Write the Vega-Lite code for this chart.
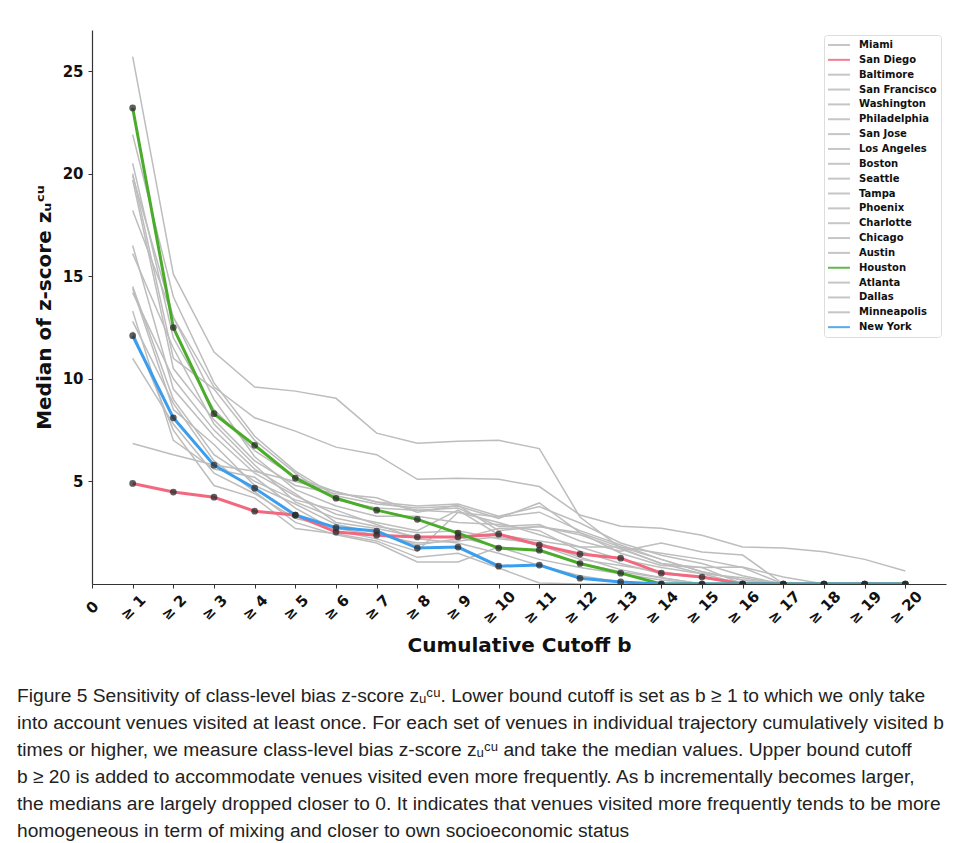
{
  "$schema": "https://vega.github.io/schema/vega-lite/v6.json",
  "width": 854,
  "height": 554,
  "autosize": {"type": "none"},
  "padding": {"left": 92, "top": 30, "right": 13, "bottom": 259},
  "background": "white",
  "title": {
    "text": [
      "Figure 5  Sensitivity of class-level bias z-score zᵤᶜᵘ. Lower bound cutoff is set as b ≥ 1 to which we only take",
      "into account venues visited at least once. For each set of venues in individual trajectory cumulatively visited b",
      "times or higher, we measure class-level bias z-score zᵤᶜᵘ and take the median values. Upper bound cutoff",
      "b ≥ 20 is added to accommodate venues visited even more frequently. As b incrementally becomes larger,",
      "the medians are largely dropped closer to 0. It indicates that venues visited more frequently tends to be more",
      "homogeneous in term of mixing and closer to own socioeconomic status"
    ],
    "orient": "bottom",
    "anchor": "start",
    "frame": "group",
    "dx": -75,
    "offset": 32,
    "baseline": "top",
    "font": "Liberation Sans",
    "fontSize": 19.2,
    "fontWeight": "normal",
    "lineHeight": 27,
    "color": "#222222"
  },
  "data": {"values": [
    {"city":"Miami","b":1,"z":25.7},{"city":"Miami","b":2,"z":15.1},{"city":"Miami","b":3,"z":11.3},{"city":"Miami","b":4,"z":9.6},{"city":"Miami","b":5,"z":9.4},{"city":"Miami","b":6,"z":9.05},{"city":"Miami","b":7,"z":7.35},{"city":"Miami","b":8,"z":6.86},{"city":"Miami","b":9,"z":6.96},{"city":"Miami","b":10,"z":7.0},{"city":"Miami","b":11,"z":6.6},{"city":"Miami","b":12,"z":3.26},{"city":"Miami","b":13,"z":1.75},{"city":"Miami","b":14,"z":1.0},{"city":"Miami","b":15,"z":0.5},{"city":"Miami","b":16,"z":0},{"city":"Miami","b":17,"z":0},{"city":"Miami","b":18,"z":0},{"city":"Miami","b":19,"z":0},{"city":"Miami","b":20,"z":0},
    {"city":"Baltimore","b":1,"z":19.9},{"city":"Baltimore","b":2,"z":13.0},{"city":"Baltimore","b":3,"z":9.6},{"city":"Baltimore","b":4,"z":8.1},{"city":"Baltimore","b":5,"z":7.45},{"city":"Baltimore","b":6,"z":6.67},{"city":"Baltimore","b":7,"z":6.3},{"city":"Baltimore","b":8,"z":5.1},{"city":"Baltimore","b":9,"z":5.15},{"city":"Baltimore","b":10,"z":5.1},{"city":"Baltimore","b":11,"z":4.75},{"city":"Baltimore","b":12,"z":3.36},{"city":"Baltimore","b":13,"z":2.82},{"city":"Baltimore","b":14,"z":2.72},{"city":"Baltimore","b":15,"z":2.38},{"city":"Baltimore","b":16,"z":1.8},{"city":"Baltimore","b":17,"z":1.75},{"city":"Baltimore","b":18,"z":1.57},{"city":"Baltimore","b":19,"z":1.2},{"city":"Baltimore","b":20,"z":0.63},
    {"city":"San Francisco","b":1,"z":6.85},{"city":"San Francisco","b":2,"z":6.3},{"city":"San Francisco","b":3,"z":5.8},{"city":"San Francisco","b":4,"z":5.5},{"city":"San Francisco","b":5,"z":5.0},{"city":"San Francisco","b":6,"z":4.5},{"city":"San Francisco","b":7,"z":4.0},{"city":"San Francisco","b":8,"z":3.6},{"city":"San Francisco","b":9,"z":3.5},{"city":"San Francisco","b":10,"z":3.0},{"city":"San Francisco","b":11,"z":2.4},{"city":"San Francisco","b":12,"z":1.8},{"city":"San Francisco","b":13,"z":1.2},{"city":"San Francisco","b":14,"z":0.8},{"city":"San Francisco","b":15,"z":0.5},{"city":"San Francisco","b":16,"z":0.3},{"city":"San Francisco","b":17,"z":0},{"city":"San Francisco","b":18,"z":0},{"city":"San Francisco","b":19,"z":0},{"city":"San Francisco","b":20,"z":0},
    {"city":"Washington","b":1,"z":21.9},{"city":"Washington","b":2,"z":14.0},{"city":"Washington","b":3,"z":9.8},{"city":"Washington","b":4,"z":7.2},{"city":"Washington","b":5,"z":5.5},{"city":"Washington","b":6,"z":4.3},{"city":"Washington","b":7,"z":3.9},{"city":"Washington","b":8,"z":3.7},{"city":"Washington","b":9,"z":3.8},{"city":"Washington","b":10,"z":3.2},{"city":"Washington","b":11,"z":3.95},{"city":"Washington","b":12,"z":2.5},{"city":"Washington","b":13,"z":1.8},{"city":"Washington","b":14,"z":1.5},{"city":"Washington","b":15,"z":1.2},{"city":"Washington","b":16,"z":0.8},{"city":"Washington","b":17,"z":0},{"city":"Washington","b":18,"z":0},{"city":"Washington","b":19,"z":0},{"city":"Washington","b":20,"z":0},
    {"city":"Philadelphia","b":1,"z":20.5},{"city":"Philadelphia","b":2,"z":12.0},{"city":"Philadelphia","b":3,"z":8.5},{"city":"Philadelphia","b":4,"z":6.5},{"city":"Philadelphia","b":5,"z":5.2},{"city":"Philadelphia","b":6,"z":4.5},{"city":"Philadelphia","b":7,"z":4.0},{"city":"Philadelphia","b":8,"z":3.8},{"city":"Philadelphia","b":9,"z":3.9},{"city":"Philadelphia","b":10,"z":3.3},{"city":"Philadelphia","b":11,"z":3.77},{"city":"Philadelphia","b":12,"z":2.97},{"city":"Philadelphia","b":13,"z":2.0},{"city":"Philadelphia","b":14,"z":1.4},{"city":"Philadelphia","b":15,"z":1.0},{"city":"Philadelphia","b":16,"z":0.4},{"city":"Philadelphia","b":17,"z":0},{"city":"Philadelphia","b":18,"z":0},{"city":"Philadelphia","b":19,"z":0},{"city":"Philadelphia","b":20,"z":0},
    {"city":"San Jose","b":1,"z":20.0},{"city":"San Jose","b":2,"z":11.0},{"city":"San Jose","b":3,"z":9.5},{"city":"San Jose","b":4,"z":7.0},{"city":"San Jose","b":5,"z":5.4},{"city":"San Jose","b":6,"z":4.1},{"city":"San Jose","b":7,"z":3.7},{"city":"San Jose","b":8,"z":3.6},{"city":"San Jose","b":9,"z":3.7},{"city":"San Jose","b":10,"z":2.8},{"city":"San Jose","b":11,"z":2.9},{"city":"San Jose","b":12,"z":2.1},{"city":"San Jose","b":13,"z":1.6},{"city":"San Jose","b":14,"z":2.0},{"city":"San Jose","b":15,"z":1.56},{"city":"San Jose","b":16,"z":1.41},{"city":"San Jose","b":17,"z":0},{"city":"San Jose","b":18,"z":0},{"city":"San Jose","b":19,"z":0},{"city":"San Jose","b":20,"z":0},
    {"city":"Los Angeles","b":1,"z":19.7},{"city":"Los Angeles","b":2,"z":10.5},{"city":"Los Angeles","b":3,"z":8.0},{"city":"Los Angeles","b":4,"z":6.0},{"city":"Los Angeles","b":5,"z":4.8},{"city":"Los Angeles","b":6,"z":4.4},{"city":"Los Angeles","b":7,"z":4.2},{"city":"Los Angeles","b":8,"z":3.5},{"city":"Los Angeles","b":9,"z":3.84},{"city":"Los Angeles","b":10,"z":2.6},{"city":"Los Angeles","b":11,"z":2.8},{"city":"Los Angeles","b":12,"z":2.4},{"city":"Los Angeles","b":13,"z":1.7},{"city":"Los Angeles","b":14,"z":1.0},{"city":"Los Angeles","b":15,"z":0.8},{"city":"Los Angeles","b":16,"z":0.83},{"city":"Los Angeles","b":17,"z":0.34},{"city":"Los Angeles","b":18,"z":0},{"city":"Los Angeles","b":19,"z":0},{"city":"Los Angeles","b":20,"z":0},
    {"city":"Boston","b":1,"z":18.2},{"city":"Boston","b":2,"z":13.0},{"city":"Boston","b":3,"z":9.0},{"city":"Boston","b":4,"z":6.2},{"city":"Boston","b":5,"z":4.6},{"city":"Boston","b":6,"z":3.8},{"city":"Boston","b":7,"z":3.3},{"city":"Boston","b":8,"z":3.3},{"city":"Boston","b":9,"z":3.0},{"city":"Boston","b":10,"z":2.9},{"city":"Boston","b":11,"z":2.6},{"city":"Boston","b":12,"z":1.6},{"city":"Boston","b":13,"z":1.0},{"city":"Boston","b":14,"z":0.5},{"city":"Boston","b":15,"z":0.3},{"city":"Boston","b":16,"z":0},{"city":"Boston","b":17,"z":0},{"city":"Boston","b":18,"z":0},{"city":"Boston","b":19,"z":0},{"city":"Boston","b":20,"z":0},
    {"city":"Seattle","b":1,"z":16.5},{"city":"Seattle","b":2,"z":9.5},{"city":"Seattle","b":3,"z":7.2},{"city":"Seattle","b":4,"z":5.4},{"city":"Seattle","b":5,"z":4.3},{"city":"Seattle","b":6,"z":3.4},{"city":"Seattle","b":7,"z":3.0},{"city":"Seattle","b":8,"z":2.6},{"city":"Seattle","b":9,"z":3.6},{"city":"Seattle","b":10,"z":2.4},{"city":"Seattle","b":11,"z":2.1},{"city":"Seattle","b":12,"z":1.8},{"city":"Seattle","b":13,"z":1.8},{"city":"Seattle","b":14,"z":1.2},{"city":"Seattle","b":15,"z":0.6},{"city":"Seattle","b":16,"z":0.2},{"city":"Seattle","b":17,"z":0},{"city":"Seattle","b":18,"z":0},{"city":"Seattle","b":19,"z":0},{"city":"Seattle","b":20,"z":0},
    {"city":"Tampa","b":1,"z":16.1},{"city":"Tampa","b":2,"z":11.5},{"city":"Tampa","b":3,"z":7.8},{"city":"Tampa","b":4,"z":5.8},{"city":"Tampa","b":5,"z":4.0},{"city":"Tampa","b":6,"z":3.2},{"city":"Tampa","b":7,"z":2.8},{"city":"Tampa","b":8,"z":2.5},{"city":"Tampa","b":9,"z":2.6},{"city":"Tampa","b":10,"z":2.2},{"city":"Tampa","b":11,"z":2.0},{"city":"Tampa","b":12,"z":1.3},{"city":"Tampa","b":13,"z":0.7},{"city":"Tampa","b":14,"z":0.3},{"city":"Tampa","b":15,"z":0},{"city":"Tampa","b":16,"z":0},{"city":"Tampa","b":17,"z":0},{"city":"Tampa","b":18,"z":0},{"city":"Tampa","b":19,"z":0},{"city":"Tampa","b":20,"z":0},
    {"city":"Phoenix","b":1,"z":14.5},{"city":"Phoenix","b":2,"z":9.0},{"city":"Phoenix","b":3,"z":6.3},{"city":"Phoenix","b":4,"z":5.0},{"city":"Phoenix","b":5,"z":4.1},{"city":"Phoenix","b":6,"z":3.6},{"city":"Phoenix","b":7,"z":2.9},{"city":"Phoenix","b":8,"z":2.2},{"city":"Phoenix","b":9,"z":2.0},{"city":"Phoenix","b":10,"z":1.5},{"city":"Phoenix","b":11,"z":0.9},{"city":"Phoenix","b":12,"z":0.4},{"city":"Phoenix","b":13,"z":0.1},{"city":"Phoenix","b":14,"z":0},{"city":"Phoenix","b":15,"z":0},{"city":"Phoenix","b":16,"z":0},{"city":"Phoenix","b":17,"z":0},{"city":"Phoenix","b":18,"z":0},{"city":"Phoenix","b":19,"z":0},{"city":"Phoenix","b":20,"z":0},
    {"city":"Charlotte","b":1,"z":14.4},{"city":"Charlotte","b":2,"z":8.5},{"city":"Charlotte","b":3,"z":6.8},{"city":"Charlotte","b":4,"z":4.8},{"city":"Charlotte","b":5,"z":3.9},{"city":"Charlotte","b":6,"z":2.9},{"city":"Charlotte","b":7,"z":2.5},{"city":"Charlotte","b":8,"z":1.9},{"city":"Charlotte","b":9,"z":2.2},{"city":"Charlotte","b":10,"z":2.7},{"city":"Charlotte","b":11,"z":2.8},{"city":"Charlotte","b":12,"z":2.5},{"city":"Charlotte","b":13,"z":1.5},{"city":"Charlotte","b":14,"z":0.9},{"city":"Charlotte","b":15,"z":0.8},{"city":"Charlotte","b":16,"z":0},{"city":"Charlotte","b":17,"z":0},{"city":"Charlotte","b":18,"z":0},{"city":"Charlotte","b":19,"z":0},{"city":"Charlotte","b":20,"z":0},
    {"city":"Chicago","b":1,"z":14.2},{"city":"Chicago","b":2,"z":10.0},{"city":"Chicago","b":3,"z":7.5},{"city":"Chicago","b":4,"z":5.6},{"city":"Chicago","b":5,"z":4.4},{"city":"Chicago","b":6,"z":3.0},{"city":"Chicago","b":7,"z":2.7},{"city":"Chicago","b":8,"z":2.3},{"city":"Chicago","b":9,"z":2.3},{"city":"Chicago","b":10,"z":1.8},{"city":"Chicago","b":11,"z":1.2},{"city":"Chicago","b":12,"z":0.8},{"city":"Chicago","b":13,"z":0.5},{"city":"Chicago","b":14,"z":0.2},{"city":"Chicago","b":15,"z":0},{"city":"Chicago","b":16,"z":0},{"city":"Chicago","b":17,"z":0},{"city":"Chicago","b":18,"z":0},{"city":"Chicago","b":19,"z":0},{"city":"Chicago","b":20,"z":0},
    {"city":"Austin","b":1,"z":13.3},{"city":"Austin","b":2,"z":7.0},{"city":"Austin","b":3,"z":5.6},{"city":"Austin","b":4,"z":5.2},{"city":"Austin","b":5,"z":3.7},{"city":"Austin","b":6,"z":2.6},{"city":"Austin","b":7,"z":2.2},{"city":"Austin","b":8,"z":1.6},{"city":"Austin","b":9,"z":3.5},{"city":"Austin","b":10,"z":3.26},{"city":"Austin","b":11,"z":3.5},{"city":"Austin","b":12,"z":2.6},{"city":"Austin","b":13,"z":1.9},{"city":"Austin","b":14,"z":1.2},{"city":"Austin","b":15,"z":0.6},{"city":"Austin","b":16,"z":0.2},{"city":"Austin","b":17,"z":0},{"city":"Austin","b":18,"z":0},{"city":"Austin","b":19,"z":0},{"city":"Austin","b":20,"z":0},
    {"city":"Atlanta","b":1,"z":12.8},{"city":"Atlanta","b":2,"z":8.8},{"city":"Atlanta","b":3,"z":6.0},{"city":"Atlanta","b":4,"z":4.5},{"city":"Atlanta","b":5,"z":3.0},{"city":"Atlanta","b":6,"z":2.4},{"city":"Atlanta","b":7,"z":2.0},{"city":"Atlanta","b":8,"z":1.07},{"city":"Atlanta","b":9,"z":1.07},{"city":"Atlanta","b":10,"z":1.8},{"city":"Atlanta","b":11,"z":1.6},{"city":"Atlanta","b":12,"z":1.0},{"city":"Atlanta","b":13,"z":0.6},{"city":"Atlanta","b":14,"z":0.3},{"city":"Atlanta","b":15,"z":0},{"city":"Atlanta","b":16,"z":0},{"city":"Atlanta","b":17,"z":0},{"city":"Atlanta","b":18,"z":0},{"city":"Atlanta","b":19,"z":0},{"city":"Atlanta","b":20,"z":0},
    {"city":"Dallas","b":1,"z":12.3},{"city":"Dallas","b":2,"z":7.5},{"city":"Dallas","b":3,"z":4.8},{"city":"Dallas","b":4,"z":4.2},{"city":"Dallas","b":5,"z":2.7},{"city":"Dallas","b":6,"z":2.45},{"city":"Dallas","b":7,"z":2.1},{"city":"Dallas","b":8,"z":1.3},{"city":"Dallas","b":9,"z":1.5},{"city":"Dallas","b":10,"z":0.78},{"city":"Dallas","b":11,"z":0.05},{"city":"Dallas","b":12,"z":0},{"city":"Dallas","b":13,"z":0},{"city":"Dallas","b":14,"z":0},{"city":"Dallas","b":15,"z":0},{"city":"Dallas","b":16,"z":0},{"city":"Dallas","b":17,"z":0},{"city":"Dallas","b":18,"z":0},{"city":"Dallas","b":19,"z":0},{"city":"Dallas","b":20,"z":0},
    {"city":"Minneapolis","b":1,"z":11.0},{"city":"Minneapolis","b":2,"z":7.8},{"city":"Minneapolis","b":3,"z":5.4},{"city":"Minneapolis","b":4,"z":4.4},{"city":"Minneapolis","b":5,"z":3.2},{"city":"Minneapolis","b":6,"z":2.7},{"city":"Minneapolis","b":7,"z":2.4},{"city":"Minneapolis","b":8,"z":2.0},{"city":"Minneapolis","b":9,"z":2.1},{"city":"Minneapolis","b":10,"z":2.3},{"city":"Minneapolis","b":11,"z":1.9},{"city":"Minneapolis","b":12,"z":1.2},{"city":"Minneapolis","b":13,"z":0.9},{"city":"Minneapolis","b":14,"z":0.6},{"city":"Minneapolis","b":15,"z":0.3},{"city":"Minneapolis","b":16,"z":0.1},{"city":"Minneapolis","b":17,"z":0},{"city":"Minneapolis","b":18,"z":0},{"city":"Minneapolis","b":19,"z":0},{"city":"Minneapolis","b":20,"z":0},
    {"city":"San Diego","b":1,"z":4.9},{"city":"San Diego","b":2,"z":4.48},{"city":"San Diego","b":3,"z":4.23},{"city":"San Diego","b":4,"z":3.55},{"city":"San Diego","b":5,"z":3.36},{"city":"San Diego","b":6,"z":2.53},{"city":"San Diego","b":7,"z":2.38},{"city":"San Diego","b":8,"z":2.29},{"city":"San Diego","b":9,"z":2.29},{"city":"San Diego","b":10,"z":2.43},{"city":"San Diego","b":11,"z":1.9},{"city":"San Diego","b":12,"z":1.46},{"city":"San Diego","b":13,"z":1.26},{"city":"San Diego","b":14,"z":0.53},{"city":"San Diego","b":15,"z":0.34},{"city":"San Diego","b":16,"z":0},{"city":"San Diego","b":17,"z":0},{"city":"San Diego","b":18,"z":0},{"city":"San Diego","b":19,"z":0},{"city":"San Diego","b":20,"z":0},
    {"city":"Houston","b":1,"z":23.2},{"city":"Houston","b":2,"z":12.5},{"city":"Houston","b":3,"z":8.3},{"city":"Houston","b":4,"z":6.76},{"city":"Houston","b":5,"z":5.16},{"city":"Houston","b":6,"z":4.18},{"city":"Houston","b":7,"z":3.6},{"city":"Houston","b":8,"z":3.15},{"city":"Houston","b":9,"z":2.48},{"city":"Houston","b":10,"z":1.75},{"city":"Houston","b":11,"z":1.65},{"city":"Houston","b":12,"z":1.0},{"city":"Houston","b":13,"z":0.53},{"city":"Houston","b":14,"z":0},{"city":"Houston","b":15,"z":0},{"city":"Houston","b":16,"z":0},{"city":"Houston","b":17,"z":0},{"city":"Houston","b":18,"z":0},{"city":"Houston","b":19,"z":0},{"city":"Houston","b":20,"z":0},
    {"city":"New York","b":1,"z":12.1},{"city":"New York","b":2,"z":8.1},{"city":"New York","b":3,"z":5.79},{"city":"New York","b":4,"z":4.67},{"city":"New York","b":5,"z":3.36},{"city":"New York","b":6,"z":2.75},{"city":"New York","b":7,"z":2.58},{"city":"New York","b":8,"z":1.75},{"city":"New York","b":9,"z":1.8},{"city":"New York","b":10,"z":0.87},{"city":"New York","b":11,"z":0.92},{"city":"New York","b":12,"z":0.28},{"city":"New York","b":13,"z":0.1},{"city":"New York","b":14,"z":0},{"city":"New York","b":15,"z":0},{"city":"New York","b":16,"z":0},{"city":"New York","b":17,"z":0},{"city":"New York","b":18,"z":0},{"city":"New York","b":19,"z":0},{"city":"New York","b":20,"z":0}
  ]},
  "encoding": {
    "x": {
      "field": "b", "type": "quantitative",
      "scale": {"domain": [0, 21], "nice": false, "zero": false},
      "axis": {
        "values": [0,1,2,3,4,5,6,7,8,9,10,11,12,13,14,15,16,17,18,19,20],
        "labelExpr": "datum.value == 0 ? '0' : '≥ ' + datum.value",
        "labelAngle": -45, "labelAlign": "center", "labelBaseline": "middle",
        "labelPadding": 19, "labelOverlap": false, "labelBound": false, "labelFlush": false,
        "title": "Cumulative Cutoff b", "titlePadding": 9
      }
    },
    "y": {
      "field": "z", "type": "quantitative",
      "scale": {"domain": [0, 27], "nice": false},
      "axis": {
        "values": [5, 10, 15, 20, 25],
        "labelPadding": 5,
        "title": "Median of z-score zᵤᶜᵘ", "titlePadding": 8
      }
    }
  },
  "layer": [
    {
      "transform": [{"filter": "datum.city != 'San Diego' && datum.city != 'Houston' && datum.city != 'New York'"}],
      "mark": {"type": "line", "strokeWidth": 1.5, "clip": true},
      "encoding": {
        "color": {"field": "city", "type": "nominal", "title": null,
          "scale": {
            "domain": ["Miami","San Diego","Baltimore","San Francisco","Washington","Philadelphia","San Jose","Los Angeles","Boston","Seattle","Tampa","Phoenix","Charlotte","Chicago","Austin","Houston","Atlanta","Dallas","Minneapolis","New York"],
            "range": ["#bdbdbd","#f2687f","#bdbdbd","#bdbdbd","#bdbdbd","#bdbdbd","#bdbdbd","#bdbdbd","#bdbdbd","#bdbdbd","#bdbdbd","#bdbdbd","#bdbdbd","#bdbdbd","#bdbdbd","#4aac2a","#bdbdbd","#bdbdbd","#bdbdbd","#3b9ded"]
          }
        }
      }
    },
    {
      "transform": [{"filter": "datum.city == 'San Diego' || datum.city == 'Houston' || datum.city == 'New York'"}],
      "mark": {"type": "line", "strokeWidth": 3, "clip": true},
      "encoding": {
        "color": {"field": "city", "type": "nominal", "title": null}
      }
    },
    {
      "transform": [{"filter": "datum.city == 'San Diego' || datum.city == 'Houston' || datum.city == 'New York'"}],
      "mark": {"type": "circle", "size": 45, "color": "#2a2a2a", "opacity": 0.75, "clip": true}
    }
  ],
  "config": {
    "view": {"stroke": null},
    "font": "DejaVu Sans",
    "axis": {
      "grid": false,
      "domainColor": "#333333",
      "domainWidth": 1.2,
      "tickColor": "#333333",
      "tickSize": 4,
      "tickWidth": 1,
      "labelFont": "DejaVu Sans",
      "labelFontWeight": "bold",
      "labelFontSize": 15,
      "labelColor": "#111111",
      "titleFont": "DejaVu Sans",
      "titleFontWeight": "bold",
      "titleFontSize": 20,
      "titleColor": "#111111"
    },
    "legend": {
      "orient": "top-right",
      "offset": 5,
      "padding": 4,
      "symbolType": "M-1.2,0H3.2",
      "symbolSize": 100,
      "symbolStrokeWidth": 2,
      "symbolOpacity": 0.85,
      "labelFont": "DejaVu Sans",
      "labelFontWeight": "bold",
      "labelFontSize": 10,
      "labelColor": "#111111",
      "labelOffset": 19,
      "rowPadding": 3.85,
      "strokeColor": "#dddddd",
      "fillColor": "white",
      "cornerRadius": 3
    }
  }
}
